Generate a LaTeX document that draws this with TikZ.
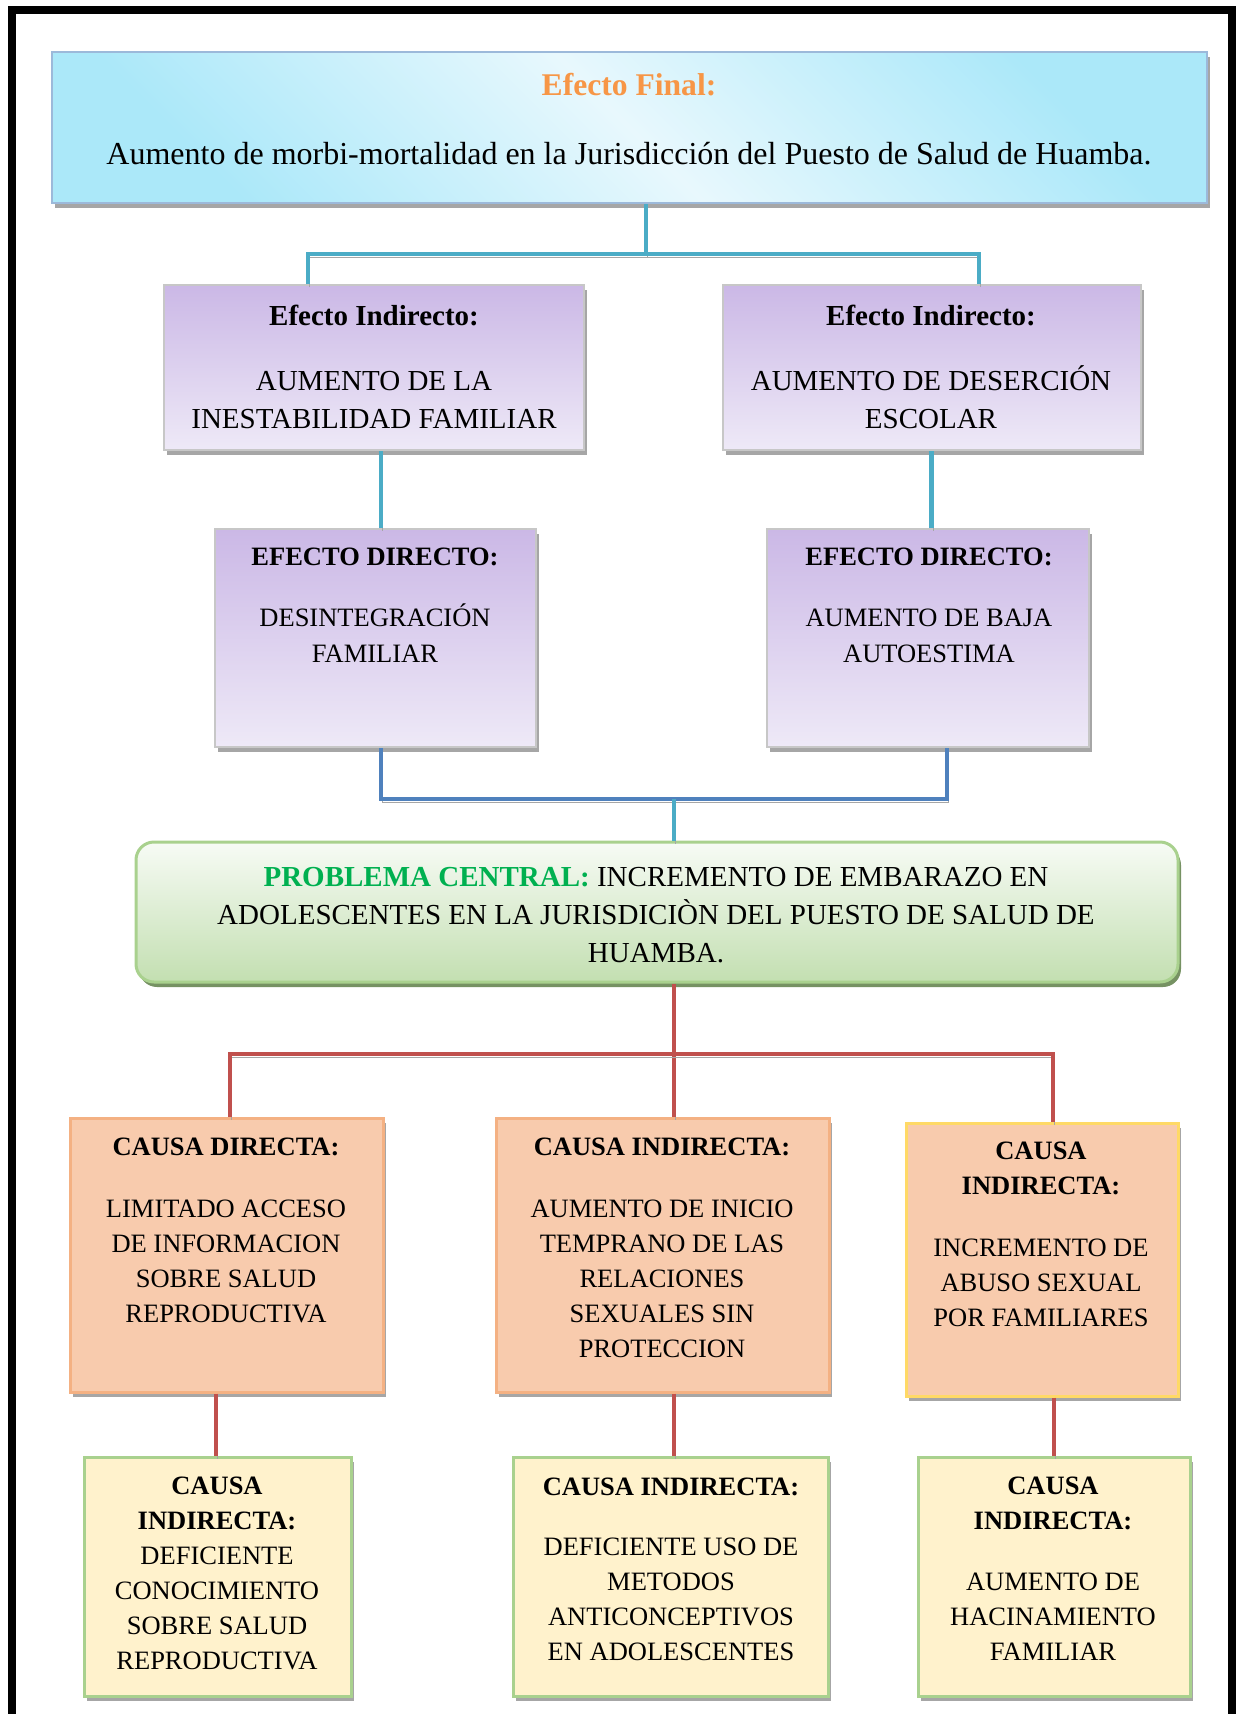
\documentclass[tikz,border=0pt]{standalone}
\usepackage{fontspec}
\setmainfont{Liberation Serif}
\usetikzlibrary{shadows}

\definecolor{lnCyan}{HTML}{4BACC6}
\definecolor{lnBlue}{HTML}{4F81BD}
\definecolor{lnRed}{HTML}{C0504D}
\definecolor{skySat}{HTML}{ABE8F9}
\definecolor{skyLight}{HTML}{E8F8FD}
\definecolor{skyEdge}{HTML}{9CB9DA}
\definecolor{lilaTop}{HTML}{CBB8E6}
\definecolor{lilaBot}{HTML}{EEE9F7}
\definecolor{greenTop}{HTML}{F7FBF5}
\definecolor{greenBot}{HTML}{C3DFB1}
\definecolor{greenEdge}{HTML}{A9D18E}
\definecolor{peach}{HTML}{F8CBAD}
\definecolor{peachEdge}{HTML}{F4B183}
\definecolor{goldEdge}{HTML}{FFD966}
\definecolor{cream}{HTML}{FFF2CC}
\definecolor{titleOrange}{HTML}{F79646}
\definecolor{titleGreen}{HTML}{00B050}

\def\bigText{\fontsize{14.5}{19}\selectfont}
\def\midText{\fontsize{13.25}{18}\selectfont}
\def\smallText{\fontsize{13.25}{17.5}\selectfont}

\begin{document}
\begin{tikzpicture}[x=0.5pt, y=-0.5pt,
		boxshadow/.style={drop shadow={shadow xshift=1.5pt, shadow yshift=-2.5pt, fill=black!35, opacity=1}},
		finalbox/.style={boxshadow, draw=skyEdge, line width=1.2pt, inner sep=0pt,
			top color=skySat, bottom color=skySat, middle color=skyLight, shading angle=-45},
		lilabox/.style={boxshadow, draw=black!22, line width=1pt, inner sep=0pt,
			top color=lilaTop, bottom color=lilaBot},
		centralbox/.style={drop shadow={shadow xshift=1.5pt, shadow yshift=-2.5pt, fill=black!30!greenEdge, opacity=1},
			draw=greenEdge, line width=1.5pt, rounded corners=9pt, inner sep=0pt,
			top color=greenTop, bottom color=greenBot},
		causebox/.style={boxshadow, draw=peachEdge, line width=1.5pt, fill=peach, inner sep=0pt},
		rootbox/.style={boxshadow, draw=greenEdge, line width=1.5pt, fill=cream, inner sep=0pt},
		txt/.style={align=center, inner sep=0pt},
		lnshadow/.style={preaction={draw=black!35, transform canvas={xshift=0.8pt, yshift=-1.5pt}}},
		cyanline/.style={lnshadow, draw=lnCyan, line width=2.4pt},
		blueline/.style={lnshadow, draw=lnBlue, line width=2.4pt},
		redline/.style={lnshadow, draw=lnRed, line width=2.4pt}]
	\useasboundingbox (0,0) rectangle (1238,1714);
	
	% marco
	\draw[line width=4pt] (12,1714) -- (12,9.5) -- (1232,9.5) -- (1232,1714);
	
	% efecto final
	\node[finalbox, minimum width=577.5pt, minimum height=75.5pt] (ef) at (629.5,127.5) {};
	\node[txt, font=\fontsize{16}{19}\selectfont] (efT) at (629,119)
		{{\fontsize{15.8}{19}\selectfont\bfseries\color{titleOrange}Efecto Final:}\\[15.5pt]
		Aumento de morbi-mortalidad en la Jurisdicción del Puesto de Salud de Huamba.};
	
	% efectos indirectos
	\node[lilabox, minimum width=210pt, minimum height=82.5pt] (ei1) at (374,367.5) {};
	\node[txt, font=\bigText] (ei1T) at (374,366.5)
		{\textbf{Efecto Indirecto:}\\[13.5pt] AUMENTO DE LA\\INESTABILIDAD FAMILIAR};
	\node[lilabox, minimum width=209pt, minimum height=82.5pt] (ei2) at (931.5,367.5) {};
	\node[txt, font=\bigText] (ei2T) at (931,366.5)
		{\textbf{Efecto Indirecto:}\\[13.5pt] AUMENTO DE DESERCIÓN\\ESCOLAR};
	
	% efectos directos
	\node[lilabox, minimum width=160.5pt, minimum height=109pt] (ed1) at (375.5,638) {};
	\node[txt, font=\midText] (ed1T) at (375,605.5)
		{\textbf{EFECTO DIRECTO:}\\[12.5pt] DESINTEGRACIÓN\\FAMILIAR};
	\node[lilabox, minimum width=161pt, minimum height=109pt] (ed2) at (928,638) {};
	\node[txt, font=\midText] (ed2T) at (929,605.5)
		{\textbf{EFECTO DIRECTO:}\\[12.5pt] AUMENTO DE BAJA\\AUTOESTIMA};
	
	% problema central
	\node[centralbox, minimum width=521pt, minimum height=70pt] (pc) at (657,912) {};
	\node[txt, font=\bigText] (pcT) at (656,915)
		{\textbf{\color{titleGreen}PROBLEMA CENTRAL:} INCREMENTO DE EMBARAZO EN\\
		ADOLESCENTES EN LA JURISDICIÒN DEL PUESTO DE SALUD DE\\HUAMBA.};
	
	% causas
	\node[causebox, minimum width=156.5pt, minimum height=137pt] (c1) at (226.5,1255) {};
	\node[txt, font=\smallText] (c1T) at (226,1230.5)
		{\textbf{CAUSA DIRECTA:}\\[13.5pt] LIMITADO ACCESO\\DE INFORMACION\\SOBRE SALUD\\REPRODUCTIVA};
	\node[causebox, minimum width=166.5pt, minimum height=137pt] (c2) at (662.5,1255) {};
	\node[txt, font=\smallText] (c2T) at (662,1247.5)
		{\textbf{CAUSA INDIRECTA:}\\[13.5pt] AUMENTO DE INICIO\\TEMPRANO DE LAS\\RELACIONES\\SEXUALES SIN\\PROTECCION};
	\node[causebox, draw=goldEdge, minimum width=136pt, minimum height=136.5pt] (c3) at (1042,1259.5) {};
	\node[txt, font=\smallText] (c3T) at (1041,1234)
		{\textbf{CAUSA}\\\textbf{INDIRECTA:}\\[13.5pt] INCREMENTO DE\\ABUSO SEXUAL\\POR FAMILIARES};
	
	% causas de las causas
	\node[rootbox, minimum width=133.5pt, minimum height=119.5pt] (d1) at (217.5,1576.5) {};
	\node[txt, font=\smallText] (d1T) at (217,1573.5)
		{\textbf{CAUSA}\\\textbf{INDIRECTA:}\\DEFICIENTE\\CONOCIMIENTO\\SOBRE SALUD\\REPRODUCTIVA};
	\node[rootbox, minimum width=157.5pt, minimum height=119.5pt] (d2) at (670.5,1576.5) {};
	\node[txt, font=\smallText] (d2T) at (671,1569)
		{\textbf{CAUSA INDIRECTA:}\\[12.5pt] DEFICIENTE USO DE\\METODOS\\ANTICONCEPTIVOS\\EN ADOLESCENTES};
	\node[rootbox, minimum width=136pt, minimum height=119.5pt] (d3) at (1054,1576.5) {};
	\node[txt, font=\smallText] (d3T) at (1053,1569)
		{\textbf{CAUSA}\\\textbf{INDIRECTA:}\\[13pt] AUMENTO DE\\HACINAMIENTO\\FAMILIAR};
	
	% conectores de efectos
	\coordinate (busAL) at (308,254);
	\coordinate (busAM) at (646,254);
	\coordinate (busAR) at (979,254);
	\draw[cyanline] (ef.south -| busAM) -- (busAM);
	\draw[cyanline] (ei1.north -| busAL) -- (busAL) -- (busAR) -- (ei2.north -| busAR);
	\coordinate (lnkL) at (381,0);
	\draw[cyanline] (ei1.south -| lnkL) -- (ed1.north -| lnkL);
	\draw[cyanline] (ei2.south) -- (ed2.north -| ei2.south);
	\coordinate (busBL) at (381,799);
	\coordinate (busBM) at (674,799);
	\coordinate (busBR) at (947,799);
	\draw[blueline] (ed1.south -| busBL) -- (busBL) -- (busBR) -- (ed2.south -| busBR);
	\draw[cyanline] (busBM) -- (pc.north -| busBM);
	
	% conectores de causas
	\coordinate (busCL) at (230,1054);
	\coordinate (busCM) at (674,1054);
	\coordinate (busCR) at (1053,1054);
	\draw[redline] (pc.south -| busCM) -- (c2.north -| busCM);
	\draw[redline] (c1.north -| busCL) -- (busCL) -- (busCR) -- (c3.north -| busCR);
	\coordinate (lnkA) at (216,0);
	\coordinate (lnkB) at (674,0);
	\coordinate (lnkC) at (1054,0);
	\draw[redline] (c1.south -| lnkA) -- (d1.north -| lnkA);
	\draw[redline] (c2.south -| lnkB) -- (d2.north -| lnkB);
	\draw[redline] (c3.south -| lnkC) -- (d3.north -| lnkC);
\end{tikzpicture}
\end{document}
